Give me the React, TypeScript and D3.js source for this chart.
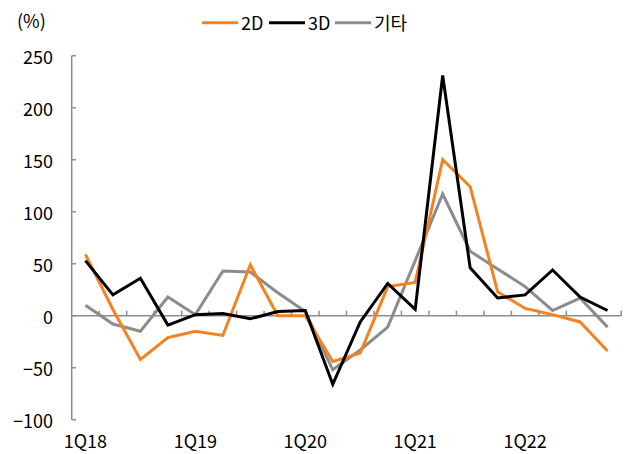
import React from "react";
import * as d3 from "d3";

// Quarterly growth rates (%), 1Q18 – 4Q22
const quarters = [
  "1Q18", "2Q18", "3Q18", "4Q18",
  "1Q19", "2Q19", "3Q19", "4Q19",
  "1Q20", "2Q20", "3Q20", "4Q20",
  "1Q21", "2Q21", "3Q21", "4Q21",
  "1Q22", "2Q22", "3Q22", "4Q22",
];
const series2D = [59, 6, -42, -21, -15, -19, 49, 0, 0, -44, -36, 28, 32, 150, 124, 23, 7, 1, -6, -34];
const series3D = [53, 20, 36, -9, 1, 2, -3, 4, 5, -66, -6, 31, 6, 231, 46, 17, 20, 44, 18, 5];
const seriesEtc = [10, -8, -15, 18, 1, 43, 42, 22, 4, -52, -33, -11, 53, 117, 62, 45, 28, 5, 17, -11];
const yTicks = [-100, -50, 0, 50, 100, 150, 200, 250];
const xLabelQuarters = ["1Q18", "1Q19", "1Q20", "1Q21", "1Q22"];

const W = 632;
const H = 454;
const FONT = "'Noto Sans CJK KR', 'Liberation Sans', sans-serif";
const AXIS = "#8c8c8c";

const legend = [
  { name: "2D", color: "#f58220", values: series2D },
  { name: "3D", color: "#000000", values: series3D },
  { name: "기타", color: "#8c8c8c", values: seriesEtc },
];

export default function App() {
  const x = d3.scaleBand<string>().domain(quarters).range([71.7, 621.3]).padding(0);
  const y = d3.scaleLinear().domain([-100, 250]).range([419.7, 55.7]);
  const cx = (q: string) => (x(q) as number) + x.bandwidth() / 2;

  const line = d3
    .line<number>()
    .x((_, i) => cx(quarters[i]))
    .y((d) => y(d));

  const legendX = [202, 269, 335];

  return (
    <svg
      width={W}
      height={H}
      style={{ position: "absolute", left: 0, top: 0, background: "#fff" }}
      fontFamily={FONT}
    >
      {/* unit label */}
      <text x={17} y={20} fontSize={18} dominantBaseline="central" fill="#000">
        (%)
      </text>

      {/* legend */}
      {legend.map((s, i) => (
        <g key={s.name}>
          <line
            x1={legendX[i]}
            x2={legendX[i] + 36}
            y1={22.7}
            y2={22.7}
            stroke={s.color}
            strokeWidth={3}
          />
          <text
            x={legendX[i] + 39}
            y={22}
            fontSize={18}
            dominantBaseline="central"
            fill="#000"
          >
            {s.name}
          </text>
        </g>
      ))}

      {/* y axis */}
      <line x1={71.7} x2={71.7} y1={y(250)} y2={y(-100)} stroke={AXIS} strokeWidth={1.5} />
      {yTicks.map((t) => (
        <g key={t}>
          <line x1={71.7} x2={76} y1={y(t)} y2={y(t)} stroke={AXIS} strokeWidth={1.5} />
          <text
            x={53}
            y={y(t)}
            fontSize={18}
            textAnchor="end"
            dominantBaseline="central"
            fill="#000"
          >
            {t < 0 ? `\u2212${Math.abs(t)}` : t}
          </text>
        </g>
      ))}

      {/* x axis at zero */}
      <line x1={71.7} x2={621.3} y1={y(0)} y2={y(0)} stroke={AXIS} strokeWidth={1.5} />
      {quarters.map((q) => (
        <line
          key={q}
          x1={(x(q) as number) + x.bandwidth()}
          x2={(x(q) as number) + x.bandwidth()}
          y1={y(0)}
          y2={y(0) - 5}
          stroke={AXIS}
          strokeWidth={1.5}
        />
      ))}
      {xLabelQuarters.map((q) => (
        <text
          key={q}
          x={cx(q)}
          y={440}
          fontSize={18}
          textAnchor="middle"
          dominantBaseline="central"
          fill="#000"
        >
          {q}
        </text>
      ))}

      {/* series lines: gray first, then orange, black on top */}
      {[legend[2], legend[0], legend[1]].map((s) => (
        <path
          key={s.name}
          d={line(s.values) || ""}
          fill="none"
          stroke={s.color}
          strokeWidth={3}
          strokeLinejoin="miter"
        />
      ))}
    </svg>
  );
}
